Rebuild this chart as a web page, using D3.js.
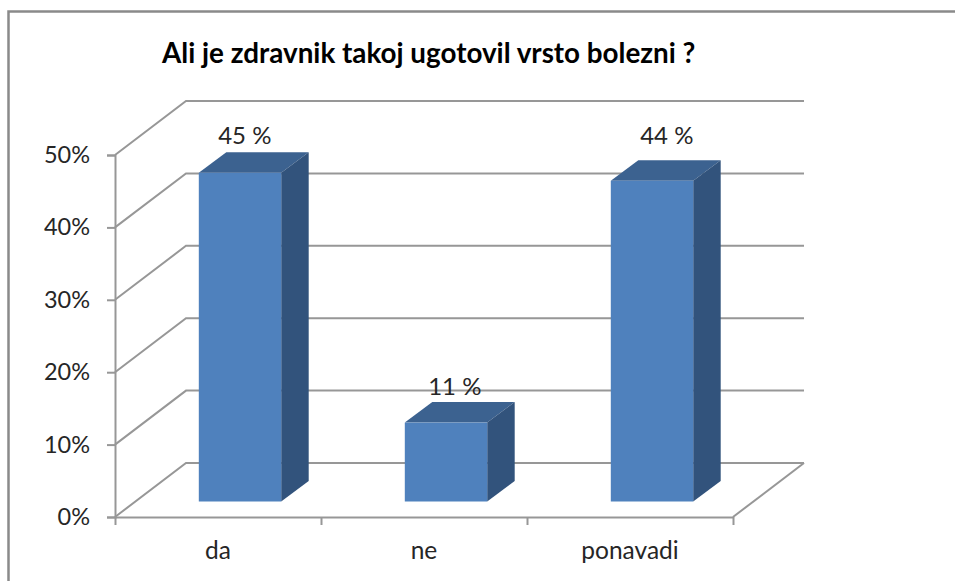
<!DOCTYPE html>
<html>
<head>
<meta charset="utf-8">
<script src="https://cdn.jsdelivr.net/npm/d3@7"></script>
<style>
  html, body { margin: 0; padding: 0; background: #fff; }
  svg { display: block; }
  text { font-family: Lato, "Open Sans", sans-serif; }
</style>
</head>
<body>
<div id="chart"></div>
<script>
const categories = ["da", "ne", "ponavadi"];
const values = [45.4, 10.9, 44.3];
const valueLabels = ["45 %", "11 %", "44 %"];
const yTicks = [0, 10, 20, 30, 40, 50];
const title = "Ali je zdravnik takoj ugotovil vrsto bolezni ?";

const width = 955;
const height = 581;

// floor depth of the fake 3D box
const depthX = 71;
const depthY = 54;
// where the bars stand inside the box, and how deep they are
const barInsetX = 22;
const barInsetY = 15.5;
const barDepthX = 27.5;
const barDepthY = 20.5;

const gridColor = "#979797";
const textColor = "#262626";

const svg = d3.select("#chart")
  .append("svg")
  .attr("width", width)
  .attr("height", height)
  .attr("viewBox", `0 0 ${width} ${height}`);

svg.append("rect")
  .attr("width", width)
  .attr("height", height)
  .attr("fill", "#fff");

// outer frame, cut off on the right and at the bottom
svg.append("path")
  .attr("d", `M8.5,${height}V11.5H${width}`)
  .attr("fill", "none")
  .attr("stroke", "#8a8a8a")
  .attr("stroke-width", 2.5);

svg.append("text")
  .attr("x", 162)
  .attr("y", 63)
  .style("font-size", "27.8px")
  .style("font-weight", "bold")
  .attr("fill", "#000")
  .text(title);

const y = d3.scaleLinear().domain([0, 50]).range([517, 155]);
const x = d3.scaleBand()
  .domain(categories)
  .range([115, 733])
  .paddingInner(0.6)
  .paddingOuter(0.3);
const xBoundary = d3.scaleLinear().domain([0, categories.length]).range([115, 733]);

// gridlines run from the front axis, up the side wall, then along the back wall
const grid = svg.append("g")
  .attr("fill", "none")
  .attr("stroke", gridColor)
  .attr("stroke-width", 2);

grid.selectAll("path")
  .data(yTicks)
  .join("path")
  .attr("d", d => {
    const left = xBoundary(0);
    const right = xBoundary(categories.length) + depthX;
    return `M${left},${y(d)}L${left + depthX},${y(d) - depthY}H${right}`;
  });

// right edge of the floor
grid.append("path")
  .attr("d", `M${xBoundary(categories.length)},${y(0)}l${depthX},${-depthY}`);

const yAxis = d3.axisLeft(y)
  .tickValues(yTicks)
  .tickSize(8)
  .tickPadding(17)
  .tickFormat(d => d + "%");

const xAxis = d3.axisBottom(xBoundary)
  .tickValues(d3.range(categories.length + 1))
  .tickSize(8)
  .tickSizeOuter(0)
  .tickFormat("");

const xLabels = d3.axisBottom(x).tickSize(0).tickPadding(25);

const yAxisG = svg.append("g")
  .attr("transform", "translate(115,0)")
  .call(yAxis);

const xAxisG = svg.append("g")
  .attr("transform", `translate(0,${y(0)})`)
  .call(xAxis);

const xLabelsG = svg.append("g")
  .attr("transform", `translate(0,${y(0)})`)
  .call(xLabels);
xLabelsG.select(".domain").remove();

[yAxisG, xAxisG].forEach(g => {
  g.selectAll(".domain, line")
    .attr("stroke", gridColor)
    .attr("stroke-width", 2);
});

yAxisG.selectAll("text")
  .style("font-size", "23.5px")
  .style("font-family", "Lato, 'Open Sans', sans-serif")
  .attr("fill", textColor);

xLabelsG.selectAll("text")
  .style("font-size", "24.5px")
  .style("font-family", "Lato, 'Open Sans', sans-serif")
  .attr("fill", textColor);

// bars: front face, top face, side face
const bars = svg.append("g")
  .selectAll("g")
  .data(categories.map((c, i) => ({ c, v: values[i], label: valueLabels[i] })))
  .join("g")
  .attr("transform", d => `translate(${x(d.c) + barInsetX},${-barInsetY})`);

bars.append("path")
  .attr("fill", "#3c6290")
  .attr("d", d => `M0,${y(d.v)}l${barDepthX},${-barDepthY}h${x.bandwidth()}l${-barDepthX},${barDepthY}Z`);

bars.append("path")
  .attr("fill", "#32537c")
  .attr("d", d => `M${x.bandwidth()},${y(d.v)}l${barDepthX},${-barDepthY}V${y(0) - barDepthY}l${-barDepthX},${barDepthY}Z`);

bars.append("rect")
  .attr("x", 0)
  .attr("y", d => y(d.v))
  .attr("width", x.bandwidth())
  .attr("height", d => y(0) - y(d.v))
  .attr("fill", "#4f81bd");

// data labels were hand placed in the original, so each has its own nudge
const labelNudgeX = [46, 50, 56];
const labelNudgeY = [29, 28, 37];

bars.append("text")
  .attr("x", (d, i) => labelNudgeX[i])
  .attr("y", (d, i) => y(d.v) - labelNudgeY[i])
  .attr("text-anchor", "middle")
  .style("font-size", "24px")
  .attr("fill", textColor)
  .text(d => d.label);
</script>
</body>
</html>
